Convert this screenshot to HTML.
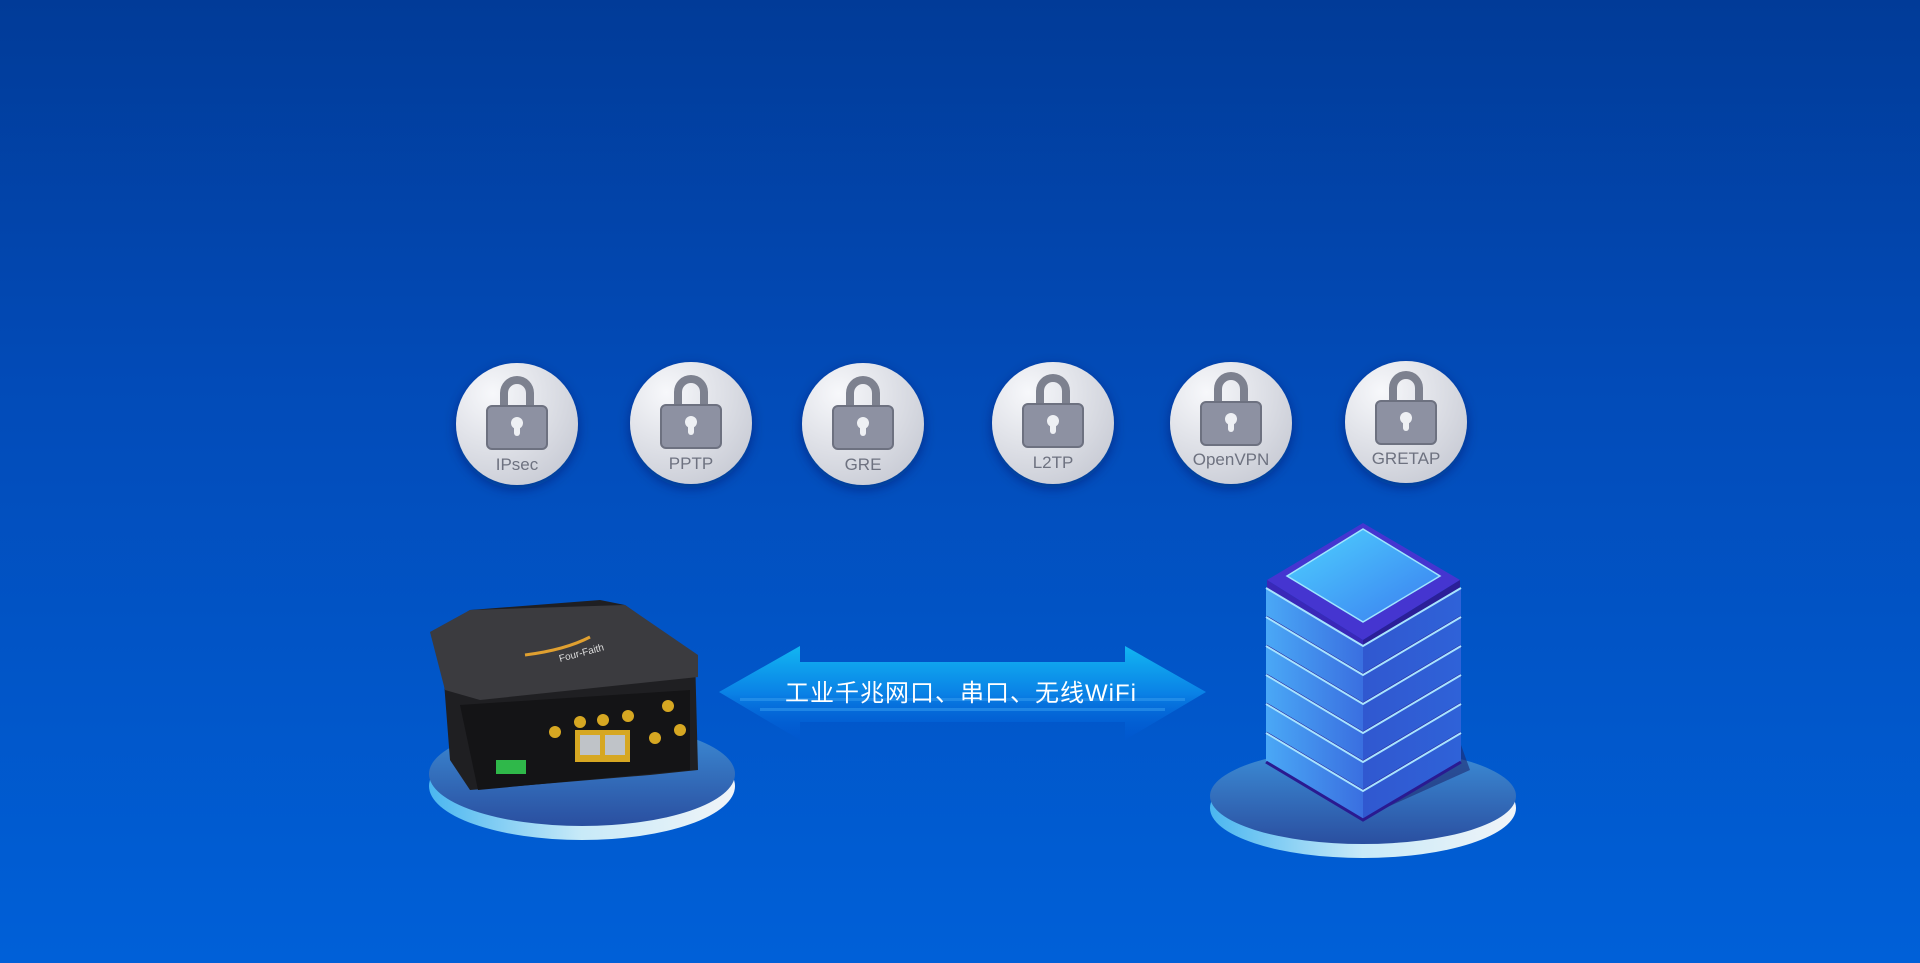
<!DOCTYPE html>
<html><head><meta charset="utf-8"><style>
html,body{margin:0;padding:0;width:1920px;height:963px;overflow:hidden}
body{background:linear-gradient(180deg,#013b98 0%,#024bb8 40%,#0060d8 100%);font-family:"Liberation Sans","Noto Sans CJK SC",sans-serif}
svg{position:absolute;left:0;top:0}
</style></head><body>
<svg width="1920" height="963" viewBox="0 0 1920 963">
<defs>
<radialGradient id="cg" cx="0.3" cy="0.25" r="0.9">
<stop offset="0" stop-color="#f7f8fb"/><stop offset="1" stop-color="#c6c9d3"/></radialGradient>
<filter id="sh" x="-30%" y="-30%" width="160%" height="160%"><feDropShadow dx="0" dy="4" stdDeviation="6" flood-color="#001a50" flood-opacity="0.45"/></filter>
<linearGradient id="ar" x1="0" y1="0" x2="0" y2="1">
<stop offset="0" stop-color="#12b6f2"/><stop offset="0.5" stop-color="#0a82e6"/><stop offset="1" stop-color="#0058d6" stop-opacity="0.2"/></linearGradient>
<linearGradient id="pt" x1="0" y1="0" x2="0" y2="1">
<stop offset="0" stop-color="#3d8fd8"/><stop offset="1" stop-color="#2a4fa0"/></linearGradient>
<linearGradient id="pr" x1="0" y1="0" x2="1" y2="0">
<stop offset="0" stop-color="#4ab6f0"/><stop offset="0.5" stop-color="#c8eaf8"/><stop offset="1" stop-color="#f0f4f8"/></linearGradient>
<linearGradient id="tf" x1="0" y1="0" x2="1" y2="1">
<stop offset="0" stop-color="#4ed2ff"/><stop offset="1" stop-color="#3a7cf0"/></linearGradient>
<linearGradient id="lf" x1="0" y1="0" x2="1" y2="0">
<stop offset="0" stop-color="#4aa8f6"/><stop offset="1" stop-color="#3a6fe0"/></linearGradient>
<linearGradient id="rf" x1="0" y1="0" x2="1" y2="0">
<stop offset="0" stop-color="#3058d0"/><stop offset="1" stop-color="#2f62d8"/></linearGradient>
<g id="lock">
<path d="M-17,-14 v-15 a17,17 0 0 1 34,0 v15 h-8 v-15 a9,9 0 0 0 -18,0 v15z" fill="#7d818f"/>
<rect x="-30" y="-16" width="60" height="43" rx="5" fill="#8d91a2" stroke="#6d7180" stroke-width="2"/>
<circle cx="0" cy="1" r="6" fill="#eef0f4"/><rect x="-3" y="1" width="6" height="13" rx="3" fill="#eef0f4"/>
</g>
<g id="layer"><path d="M1266,588 L1363,646 L1363,675 L1266,617Z" fill="url(#lf)"/><path d="M1363,646 L1461,588 L1461,617 L1363,675Z" fill="url(#rf)"/><path d="M1266,588 L1363,646 L1461,588" stroke="#a8e4ff" stroke-width="2" fill="none"/><path d="M1266,617 L1363,675 L1461,617" stroke="#2a1a90" stroke-width="3" fill="none"/></g>
</defs>

<g font-size="17" fill="#6e7280" text-anchor="middle">
<g transform="translate(517,424)"><circle r="61" fill="url(#cg)" filter="url(#sh)"/><use href="#lock" y="-2"/><text y="46">IPsec</text></g>
<g transform="translate(691,423)"><circle r="61" fill="url(#cg)" filter="url(#sh)"/><use href="#lock" y="-2"/><text y="46">PPTP</text></g>
<g transform="translate(863,424)"><circle r="61" fill="url(#cg)" filter="url(#sh)"/><use href="#lock" y="-2"/><text y="46">GRE</text></g>
<g transform="translate(1053,423)"><circle r="61" fill="url(#cg)" filter="url(#sh)"/><use href="#lock" y="-3"/><text y="45">L2TP</text></g>
<g transform="translate(1231,423)"><circle r="61" fill="url(#cg)" filter="url(#sh)"/><use href="#lock" y="-5"/><text y="42">OpenVPN</text></g>
<g transform="translate(1406,422)"><circle r="61" fill="url(#cg)" filter="url(#sh)"/><use href="#lock" y="-5"/><text y="42">GRETAP</text></g>
</g>

<path d="M719,692 L800,646 L800,662 L1125,662 L1125,646 L1206,692 L1125,740 L1125,722 L800,722 L800,740 Z" fill="url(#ar)"/>
<g fill="#3aa0f0" opacity="0.5"><rect x="740" y="698" width="445" height="3"/><rect x="760" y="708" width="405" height="3"/></g>
<text x="961" y="701" text-anchor="middle" font-size="24" fill="#fff" letter-spacing="1">工业千兆网口、串口、无线WiFi</text>

<ellipse cx="582" cy="786" rx="153" ry="54" fill="url(#pr)"/>
<ellipse cx="582" cy="774" rx="153" ry="52" fill="url(#pt)"/>
<path d="M440,630 L470,610 L600,600 L625,605 L695,655 L698,770 L650,775 L470,790 L450,760 Z" fill="#1f1f22"/>
<path d="M430,632 L470,610 L625,605 L698,655 L698,677 L480,700 L445,690 Z" fill="#3b3b3f"/>
<path d="M460,705 L690,690 L690,770 L478,790 Z" fill="#141416"/>
<rect x="496" y="760" width="30" height="14" fill="#2fb84a"/>
<rect x="575" y="730" width="55" height="32" fill="#d6a722"/>
<rect x="580" y="735" width="20" height="20" fill="#bfc3c8"/><rect x="605" y="735" width="20" height="20" fill="#bfc3c8"/>
<g fill="#d6a722"><circle cx="555" cy="732" r="6"/><circle cx="580" cy="722" r="6"/><circle cx="603" cy="720" r="6"/><circle cx="628" cy="716" r="6"/><circle cx="668" cy="706" r="6"/><circle cx="655" cy="738" r="6"/><circle cx="680" cy="730" r="6"/></g>
<path d="M525,655 q40,-5 65,-18" stroke="#e0a030" stroke-width="3" fill="none"/>
<text x="560" y="662" font-size="10" fill="#ddd" transform="rotate(-15 560 662)">Four-Faith</text>

<ellipse cx="1363" cy="808" rx="153" ry="50" fill="url(#pr)"/>
<ellipse cx="1363" cy="796" rx="153" ry="48" fill="url(#pt)"/>
<path d="M1266,760 L1363,818 L1470,770 L1461,745Z" fill="#1e2a70" opacity="0.6"/>
<path d="M1267,580 L1363,523 L1460,580 L1363,640Z" fill="#4535d0"/>
<path d="M1267,580 L1363,640 L1363,660 L1267,598Z" fill="#3a28b8"/>
<path d="M1363,640 L1460,580 L1460,598 L1363,660Z" fill="#2b1f98"/>
<path d="M1287,576 L1363,529 L1440,576 L1363,622Z" fill="url(#tf)" stroke="#9fe6ff" stroke-width="1.5"/>
<use href="#layer"/>
<use href="#layer" y="29"/>
<use href="#layer" y="58"/>
<use href="#layer" y="87"/>
<use href="#layer" y="116"/>
<use href="#layer" y="145"/>
</svg>
</body></html>
